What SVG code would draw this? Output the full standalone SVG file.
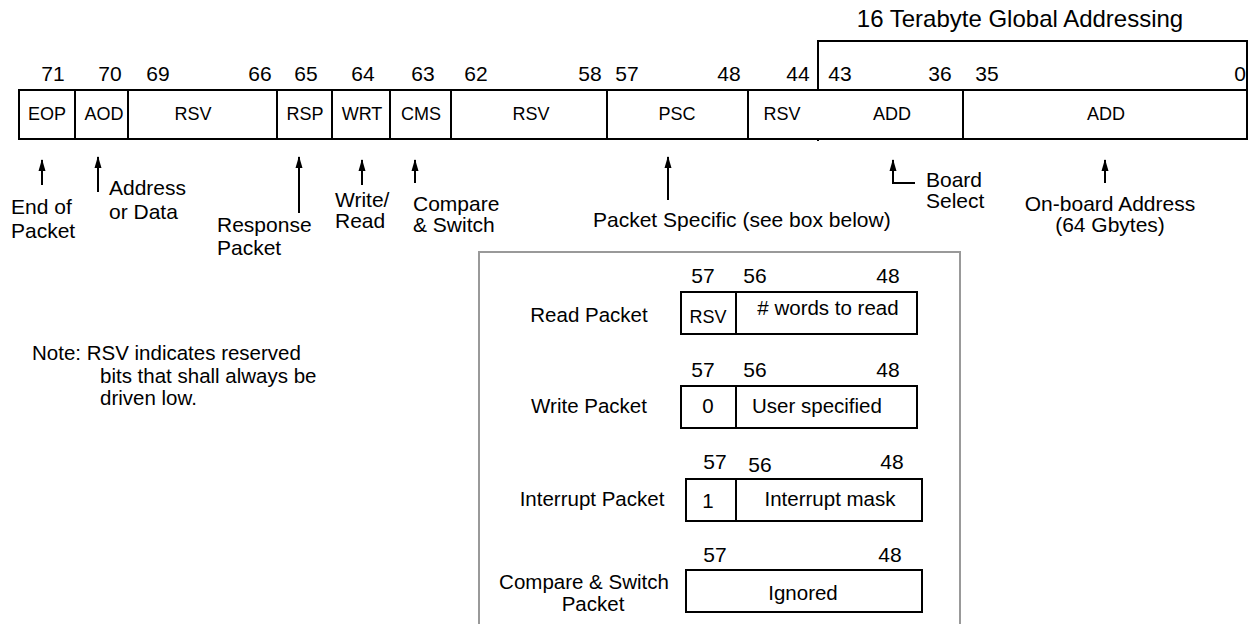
<svg xmlns="http://www.w3.org/2000/svg" width="1254" height="624" viewBox="0 0 1254 624">
<style>
text{font-family:"Liberation Sans",Arial,sans-serif;fill:#000}
.num{font-size:21px;text-anchor:middle}
.fld{font-size:18px;text-anchor:middle}
.ann{font-size:21px}
.sub{font-size:20.5px;text-anchor:middle}
.box{fill:#fff;stroke:#000;stroke-width:2}
.div{stroke:#000;stroke-width:2}
.arr{stroke:#000;stroke-width:2;fill:none;marker-end:url(#ah)}
</style>
<defs>
<marker id="ah" markerUnits="userSpaceOnUse" markerWidth="12" markerHeight="8" refX="11" refY="4" orient="auto">
<path d="M0,0.5 L12,4 L0,7.5 z" fill="#000"/>
</marker>
</defs>
<rect width="1254" height="624" fill="#fff"/>

<g id="title">
<text x="1020" y="27" style="font-size:24px;text-anchor:middle">16 Terabyte Global Addressing</text>
<polyline points="818,141 818,41 1247,41 1247,90" fill="none" stroke="#000" stroke-width="2"/>
</g>

<g id="bitnumbers">
<text class="num" x="53" y="81">71</text>
<text class="num" x="110" y="81">70</text>
<text class="num" x="158" y="81">69</text>
<text class="num" x="260" y="81">66</text>
<text class="num" x="306" y="81">65</text>
<text class="num" x="363" y="81">64</text>
<text class="num" x="423" y="81">63</text>
<text class="num" x="476" y="81">62</text>
<text class="num" x="590" y="81">58</text>
<text class="num" x="627" y="81">57</text>
<text class="num" x="729" y="81">48</text>
<text class="num" x="798" y="81">44</text>
<text class="num" x="840" y="81">43</text>
<text class="num" x="940" y="81">36</text>
<text class="num" x="987" y="81">35</text>
<text class="num" x="1240" y="81">0</text>
</g>

<g id="register">
<rect class="box" x="19" y="90" width="1228" height="49"/>
<line class="div" x1="75" y1="90" x2="75" y2="139"/>
<line class="div" x1="128" y1="90" x2="128" y2="139"/>
<line class="div" x1="277" y1="90" x2="277" y2="139"/>
<line class="div" x1="332" y1="90" x2="332" y2="139"/>
<line class="div" x1="390" y1="90" x2="390" y2="139"/>
<line class="div" x1="451" y1="90" x2="451" y2="139"/>
<line class="div" x1="607" y1="90" x2="607" y2="139"/>
<line class="div" x1="748" y1="90" x2="748" y2="139"/>
<line class="div" x1="963" y1="90" x2="963" y2="139"/>
<text class="fld" x="47" y="120">EOP</text>
<text class="fld" x="104" y="120">AOD</text>
<text class="fld" x="193" y="120">RSV</text>
<text class="fld" x="305" y="120">RSP</text>
<text class="fld" x="362" y="120">WRT</text>
<text class="fld" x="421" y="120">CMS</text>
<text class="fld" x="531" y="120">RSV</text>
<text class="fld" x="677" y="120">PSC</text>
<text class="fld" x="782" y="120">RSV</text>
<text class="fld" x="892" y="120">ADD</text>
<text class="fld" x="1106" y="120">ADD</text>
</g>

<g id="connectors">
<line class="arr" x1="42" y1="185" x2="42" y2="160"/>
<line class="arr" x1="98" y1="192" x2="98" y2="157"/>
<line class="arr" x1="299" y1="213" x2="299" y2="157"/>
<line class="arr" x1="362" y1="185" x2="362" y2="160"/>
<line class="arr" x1="415" y1="183" x2="415" y2="160"/>
<line class="arr" x1="668" y1="200" x2="668" y2="157"/>
<polyline class="arr" points="915,183 893,183 893,160"/>
<line class="arr" x1="1105" y1="183" x2="1105" y2="160"/>
</g>

<g id="annotations">
<text class="ann" x="11" y="214">End of</text>
<text class="ann" x="11" y="238">Packet</text>
<text class="ann" x="109" y="195">Address</text>
<text class="ann" x="109" y="219">or Data</text>
<text class="ann" x="217" y="232">Response</text>
<text class="ann" x="217" y="255">Packet</text>
<text class="ann" x="335" y="207">Write/</text>
<text class="ann" x="335" y="228">Read</text>
<text class="ann" x="413" y="211">Compare</text>
<text class="ann" x="413" y="232">&amp; Switch</text>
<text class="ann" x="593" y="227">Packet Specific (see box below)</text>
<text class="ann" x="926" y="187">Board</text>
<text class="ann" x="926" y="208">Select</text>
<text class="ann" x="1110" y="211" text-anchor="middle">On-board Address</text>
<text class="ann" x="1110" y="232" text-anchor="middle">(64 Gbytes)</text>
</g>

<g id="note">
<text class="ann" x="32" y="360" style="font-size:20.5px">Note: RSV indicates reserved</text>
<text class="ann" x="100" y="383" style="font-size:20.5px">bits that shall always be</text>
<text class="ann" x="100" y="405" style="font-size:20.5px">driven low.</text>
</g>

<g id="packet-box">
<rect x="479" y="252" width="481" height="400" fill="none" stroke="#999" stroke-width="2"/>
</g>

<g id="read-packet">
<text class="sub" x="589" y="322">Read Packet</text>
<text class="num" x="703" y="283">57</text>
<text class="num" x="755" y="283">56</text>
<text class="num" x="888" y="283">48</text>
<rect class="box" x="681" y="292" width="236" height="42"/>
<line class="div" x1="736" y1="292" x2="736" y2="334"/>
<text class="fld" x="708" y="323">RSV</text>
<text class="sub" x="828" y="315"># words to read</text>
</g>

<g id="write-packet">
<text class="sub" x="589" y="413">Write Packet</text>
<text class="num" x="703" y="377">57</text>
<text class="num" x="755" y="377">56</text>
<text class="num" x="888" y="377">48</text>
<rect class="box" x="681" y="386" width="236" height="42"/>
<line class="div" x1="736" y1="386" x2="736" y2="428"/>
<text class="sub" x="708" y="413">0</text>
<text class="sub" x="752" y="413" style="text-anchor:start">User specified</text>
</g>

<g id="interrupt-packet">
<text class="sub" x="592" y="506">Interrupt Packet</text>
<text class="num" x="715" y="469">57</text>
<text class="num" x="760" y="472">56</text>
<text class="num" x="892" y="469">48</text>
<rect class="box" x="686" y="479" width="236" height="42"/>
<line class="div" x1="736" y1="479" x2="736" y2="521"/>
<text class="sub" x="708" y="508">1</text>
<text class="sub" x="830" y="506">Interrupt mask</text>
</g>

<g id="cas-packet">
<text class="sub" x="584" y="589">Compare &amp; Switch</text>
<text class="sub" x="593" y="611">Packet</text>
<text class="num" x="715" y="562">57</text>
<text class="num" x="890" y="562">48</text>
<rect class="box" x="686" y="570" width="236" height="42"/>
<text class="sub" x="803" y="600">Ignored</text>
</g>
</svg>
